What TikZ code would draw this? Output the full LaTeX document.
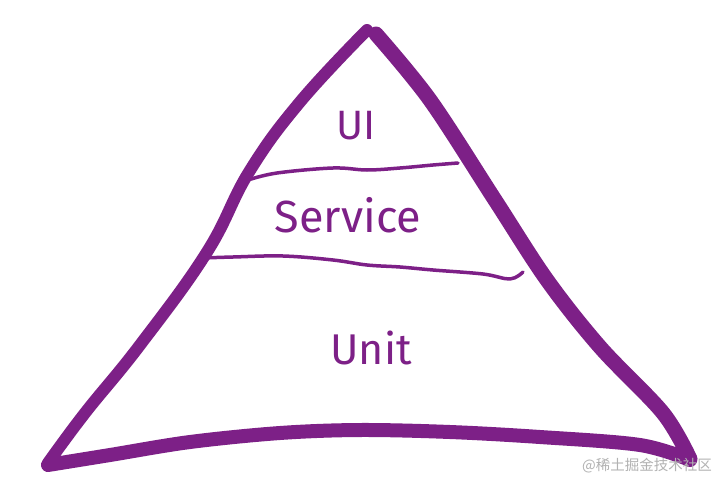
\documentclass[tikz,border=0pt]{standalone}
\usepackage{fontspec}
\setmainfont{Fira Sans}
\newfontfamily\cjkfont{Noto Sans CJK SC}
\definecolor{pyr}{RGB}{125,32,135}
\begin{document}
\begin{tikzpicture}[x=1pt,y=-1pt,
  edge/.style={draw=pyr,line cap=round,line join=round},
  lbl/.style={text=pyr,inner sep=0pt,font=\fontsize{#1}{#1}\selectfont}]
\useasboundingbox[fill=white] (0,0) rectangle (720,479);
% sides
\draw[edge,line width=12] plot[smooth,tension=0.7] coordinates {(367,30) (300,102) (249,172) (207,252) (140,345) (85,413) (48,463)};
\draw[edge,line width=15] plot[smooth,tension=0.55] coordinates {(376,34) (430,100) (495,200) (547,280) (600,347) (663,413) (690,459)};
\draw[edge,line width=14] plot[smooth,tension=0.55] coordinates {(48,465) (110,455) (190,442) (280,433) (360,430) (450,432) (540,437) (640,445) (690,460)};
% layer lines
\draw[edge,line width=3.5] plot[smooth,tension=0.6] coordinates {(248,180) (277,173) (333,168) (367,170) (400,168) (433,165) (458,163)};
\draw[edge,line width=3.5] plot[smooth,tension=0.6] coordinates {(203,258) (233,257) (283,256) (333,260) (367,265) (400,267) (433,270) (483,274) (510,279) (523,272)};
% labels
\node[lbl=41] (ui) at (356,126) {UI};
\node[lbl=45] (svc) at (348,215) {Service};
\node[lbl=43] (unit) at (371,348) {Unit};
\node[text=black!30,inner sep=0pt,font=\cjkfont\fontsize{14.5}{15}\selectfont] (wm) at (647,466) {@稀土掘金技术社区};
\end{tikzpicture}
\end{document}
